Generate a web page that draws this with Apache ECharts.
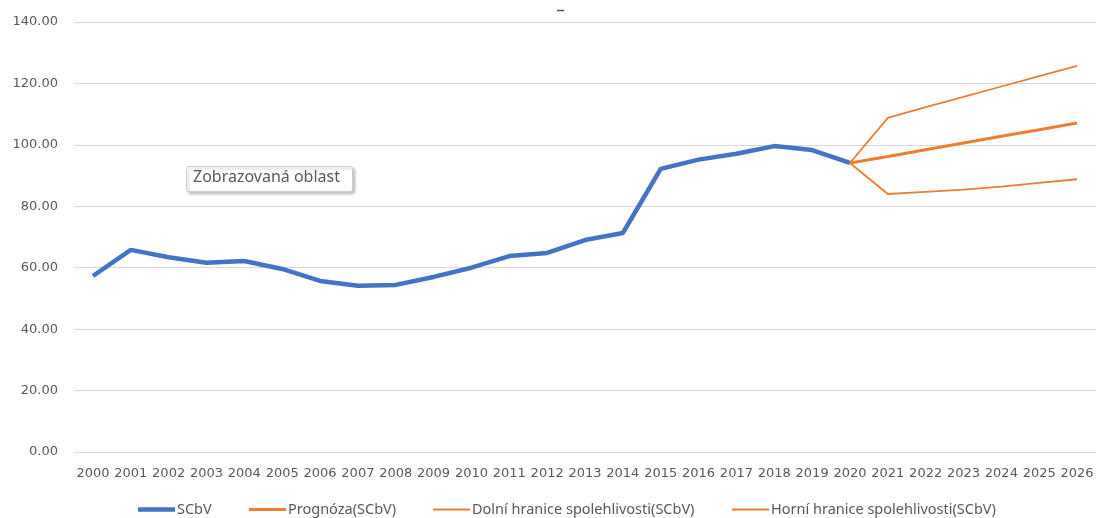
<!DOCTYPE html>
<html><head><meta charset="utf-8">
<script src="https://cdn.jsdelivr.net/npm/echarts@6/dist/echarts.min.js"></script>
<style>html,body{margin:0;padding:0;background:#fff}#c{width:1098px;height:518px}</style>
</head><body><div id="c"></div>
<script>
const years = ['2000','2001','2002','2003','2004','2005','2006','2007','2008','2009','2010','2011','2012','2013','2014','2015','2016','2017','2018','2019','2020','2021','2022','2023','2024','2025','2026'];
const actual = [57.3,65.8,63.4,61.6,62.2,59.6,55.7,54.1,54.4,57.0,60.0,63.8,64.8,69.0,71.3,92.2,95.2,97.1,99.6,98.3,94.1];
const forecast = [94.1,96.2,98.4,100.6,102.8,104.9,107.1];
const lowerBound = [94.1,84.0,84.7,85.4,86.4,87.6,88.8];
const upperBound = [94.1,108.8,112.3,115.6,119.0,122.4,125.7];
const forecastStart = 20;

function pad(arr, start){ const out = new Array(years.length).fill(null); arr.forEach((v,i)=>out[start+i]=v); return out; }

const BLUE='#4472C4', ORANGE='#ED7D31', TXT='#595959';
const chart = echarts.init(document.getElementById('c'));
const legendBase = {top: 497, itemWidth: 37, icon:'rect', itemGap: 4,
  textStyle:{color:TXT, fontSize:14.5, fontFamily:'Noto Sans', padding:[0,0,0,-3]}};
chart.setOption({
  animation:false,
  grid:{left:74, right:2, top:22, bottom:66, containLabel:false},
  xAxis:{type:'category', data:years, boundaryGap:true,
    axisLine:{show:false}, axisTick:{show:false},
    axisLabel:{color:TXT, fontSize:13, fontFamily:'DejaVu Sans', margin:15, interval:0}},
  yAxis:{type:'value', min:0, max:140, interval:20,
    axisLine:{show:false}, axisTick:{show:false},
    splitLine:{lineStyle:{color:'#d9d9d9', width:1}},
    axisLabel:{color:TXT, fontSize:13, fontFamily:'DejaVu Sans', margin:16, formatter:v=>v.toFixed(2)}},
  legend:[
    Object.assign({}, legendBase, {left:133, data:['SCbV'], itemHeight:4.5}),
    Object.assign({}, legendBase, {left:244, data:['Prognóza(SCbV)'], itemHeight:3}),
    Object.assign({}, legendBase, {left:428, data:['Dolní hranice spolehlivosti(SCbV)'], itemHeight:2}),
    Object.assign({}, legendBase, {left:727, data:['Horní hranice spolehlivosti(SCbV)'], itemHeight:2})
  ],
  series:[
    {name:'SCbV', type:'line', data:actual, symbol:'none', lineStyle:{color:BLUE, width:4.5}, itemStyle:{color:BLUE}, z:2},
    {name:'Prognóza(SCbV)', type:'line', data:pad(forecast, forecastStart), symbol:'none', lineStyle:{color:ORANGE, width:3}, itemStyle:{color:ORANGE}, z:3},
    {name:'Dolní hranice spolehlivosti(SCbV)', type:'line', data:pad(lowerBound, forecastStart), symbol:'none', lineStyle:{color:ORANGE, width:1.8}, itemStyle:{color:ORANGE}, z:3},
    {name:'Horní hranice spolehlivosti(SCbV)', type:'line', data:pad(upperBound, forecastStart), symbol:'none', lineStyle:{color:ORANGE, width:1.8}, itemStyle:{color:ORANGE}, z:3}
  ],
  graphic:[
    {type:'rect', left:186, top:166, shape:{width:166, height:25, r:2}, style:{fill:'#fff', stroke:'#cfcfcf', lineWidth:1, shadowBlur:3, shadowOffsetX:2, shadowOffsetY:2, shadowColor:'rgba(0,0,0,0.25)'}, z:10},
    {type:'text', left:193, top:169, style:{text:'Zobrazovaná oblast', fill:TXT, fontSize:16, fontFamily:'Noto Sans'}, z:11},
    {type:'line', shape:{x1:557, y1:10.5, x2:564, y2:10.5}, style:{stroke:'#555', lineWidth:1.5}, z:11}
  ]
});
</script></body></html>
